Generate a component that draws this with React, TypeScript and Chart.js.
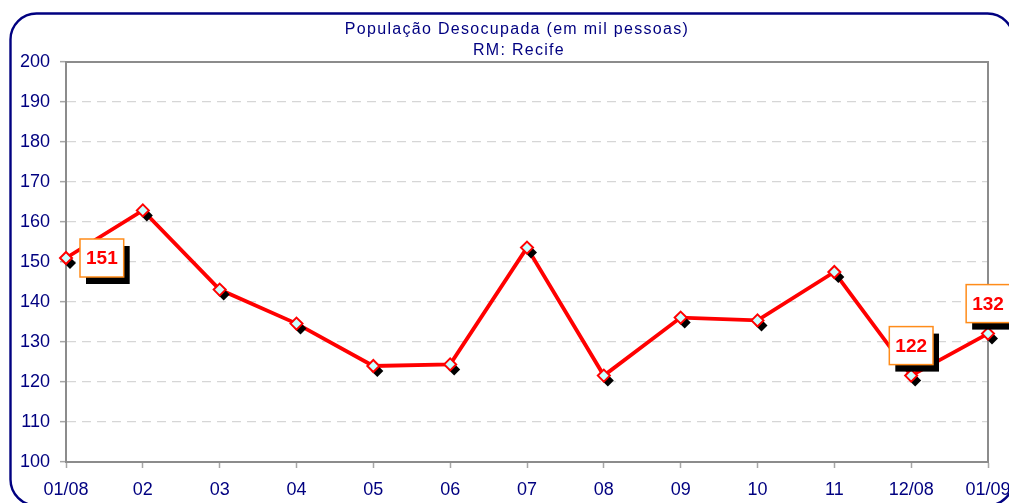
import React, { useEffect, useRef } from 'react';
import { Chart, registerables } from 'chart.js';

Chart.register(...registerables);

// ---- data ----
const categories = ['01/08', '02', '03', '04', '05', '06', '07', '08', '09', '10', '11', '12/08', '01/09'];
const values = [151.0, 162.9, 143.1, 134.6, 124.0, 124.4, 153.6, 121.6, 136.1, 135.4, 147.5, 121.6, 132.1];
const yMin = 100;
const yMax = 200;
const yStep = 10;
const titleLines = ['População Desocupada (em mil pessoas)', 'RM: Recife'];
const labelIndices = [0, 11, 12];
const labelPlacement = ['right', 'above', 'above'];

// ---- style ----
const NAVY = '#000080';
const FONT = "'Liberation Sans', Arial, sans-serif";
const GRAY = '#8c8c8c';

const framePlugin = {
  id: 'frame',
  beforeDraw(chart: any) {
    const ctx = chart.ctx;
    ctx.save();
    ctx.fillStyle = '#ffffff';
    ctx.fillRect(0, 0, chart.width, chart.height);
    ctx.strokeStyle = NAVY;
    ctx.lineWidth = 2.4;
    ctx.beginPath();
    (ctx as any).roundRect(10.5, 13.5, 1003, 492, 26);
    ctx.stroke();
    ctx.restore();
  },
  beforeDatasetsDraw(chart: any) {
    const { ctx, chartArea: a } = chart;
    ctx.save();
    ctx.strokeStyle = GRAY;
    ctx.lineWidth = 2;
    ctx.strokeRect(a.left, a.top, a.right - a.left, a.bottom - a.top);
    ctx.restore();
  },
  afterDatasetsDraw(chart: any) {
    const ctx = chart.ctx;
    const meta = chart.getDatasetMeta(0);
    const s = 6;
    const diamond = (x: number, y: number) => {
      ctx.beginPath();
      ctx.moveTo(x, y - s);
      ctx.lineTo(x + s, y);
      ctx.lineTo(x, y + s);
      ctx.lineTo(x - s, y);
      ctx.closePath();
    };
    ctx.save();
    meta.data.forEach((pt: any) => {
      ctx.fillStyle = '#000000';
      diamond(pt.x + 4, pt.y + 5);
      ctx.fill();
      diamond(pt.x, pt.y);
      ctx.fillStyle = '#ccffff';
      ctx.fill();
      ctx.strokeStyle = '#ff0000';
      ctx.lineWidth = 2;
      ctx.stroke();
    });
    // data labels
    ctx.font = `bold 19px ${FONT}`;
    labelIndices.forEach((idx, k) => {
      const pt = meta.data[idx];
      const text = String(Math.round(values[idx]));
      const tw = ctx.measureText(text).width;
      const w = tw + 12;
      const h = 38;
      let bx: number, by: number;
      if (labelPlacement[k] === 'right') {
        bx = pt.x + 14;
        by = pt.y - h / 2;
      } else {
        bx = pt.x - w / 2;
        by = pt.y - 11 - h;
      }
      ctx.fillStyle = '#000000';
      ctx.fillRect(bx + 6, by + 7, w, h);
      ctx.fillStyle = '#ffffff';
      ctx.fillRect(bx, by, w, h);
      ctx.strokeStyle = '#ff8c1a';
      ctx.lineWidth = 1.5;
      ctx.strokeRect(bx, by, w, h);
      ctx.fillStyle = '#ff0000';
      ctx.textAlign = 'center';
      ctx.textBaseline = 'middle';
      ctx.fillText(text, bx + w / 2, by + h / 2 + 1);
    });
    ctx.restore();
  },
  afterDraw(chart: any) {
    const ctx = chart.ctx;
    ctx.save();
    ctx.font = `16px ${FONT}`;
    (ctx as any).letterSpacing = '1.3px';
    ctx.fillStyle = NAVY;
    ctx.textAlign = 'center';
    ctx.textBaseline = 'alphabetic';
    ctx.fillText(titleLines[0], 517, 33.5);
    ctx.fillText(titleLines[1], 519, 55);
    ctx.restore();
  },
};

export default function App() {
  const ref = useRef<HTMLCanvasElement>(null);
  useEffect(() => {
    if (!ref.current) return;
    const chart = new Chart(ref.current, {
      type: 'line',
      data: {
        labels: categories,
        datasets: [
          {
            data: values,
            borderColor: '#ff0000',
            borderWidth: 3.8,
            pointRadius: 0,
            tension: 0,
            fill: false,
          },
        ],
      },
      options: {
        responsive: false,
        animation: false,
        devicePixelRatio: 1,
        events: [],
        layout: { padding: { top: 62, right: 21, left: 0, bottom: 0 } },
        plugins: {
          legend: { display: false },
          title: { display: false },
          tooltip: { enabled: false },
        },
        scales: {
          x: {
            type: 'category',
            offset: false,
            grid: {
              display: true,
              drawOnChartArea: false,
              drawTicks: true,
              tickLength: 6,
              tickColor: '#a6a6a6',
              tickWidth: 1.5,
              offset: false,
            },
            border: { display: true, color: GRAY, width: 2 },
            ticks: {
              color: NAVY,
              font: { family: FONT, size: 18 },
              padding: 11,
              maxRotation: 0,
              autoSkip: false,
            },
            afterFit: (s: any) => {
              s.height = 41;
              s.paddingLeft = 0;
              s.paddingRight = 0;
            },
          },
          y: {
            min: yMin,
            max: yMax,
            grid: {
              color: '#d6d6d6',
              lineWidth: 1.3,
              drawTicks: true,
              tickLength: 6,
              tickColor: '#a6a6a6',
              tickWidth: 1.5,
            },
            border: { display: true, color: GRAY, width: 2, dash: [9, 6] },
            ticks: {
              stepSize: yStep,
              color: NAVY,
              font: { family: FONT, size: 18 },
              padding: 10,
            },
            afterFit: (s: any) => {
              s.width = 66;
              s.paddingTop = 0;
              s.paddingBottom = 0;
            },
          },
        },
      },
      plugins: [framePlugin],
    } as any);
    return () => chart.destroy();
  }, []);
  return (
    <div style={{ position: 'fixed', left: 0, top: 0, width: 1009, height: 503, background: '#fff' }}>
      <canvas ref={ref} width={1009} height={503} style={{ display: 'block' }} />
    </div>
  );
}
